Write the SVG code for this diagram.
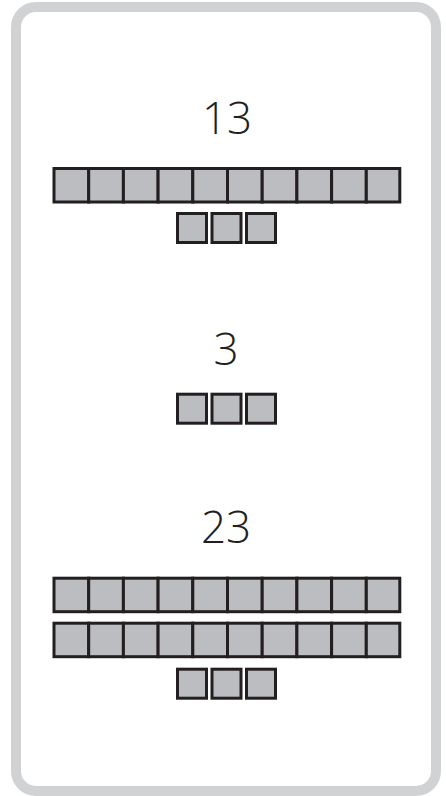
<svg xmlns="http://www.w3.org/2000/svg" width="446" height="796" viewBox="0 0 446 796">
<style>
.frame{fill:#fff;stroke:#d1d2d4;stroke-width:10}
.c{fill:#bcbdc0;stroke:#231f20;stroke-width:3}
.n{font-family:"Open Sans","DejaVu Sans",sans-serif;font-size:44px;fill:#231f20;text-anchor:middle;font-weight:300}
</style>
<defs>
<g id="bar">
<rect class="c" x="54" y="0" width="34.7" height="33.5"/>
<rect class="c" x="88.7" y="0" width="34.7" height="33.5"/>
<rect class="c" x="123.4" y="0" width="34.7" height="33.5"/>
<rect class="c" x="158.1" y="0" width="34.7" height="33.5"/>
<rect class="c" x="192.8" y="0" width="34.7" height="33.5"/>
<rect class="c" x="227.5" y="0" width="34.7" height="33.5"/>
<rect class="c" x="262.2" y="0" width="34.7" height="33.5"/>
<rect class="c" x="296.9" y="0" width="34.7" height="33.5"/>
<rect class="c" x="331.6" y="0" width="34.7" height="33.5"/>
<rect class="c" x="366.3" y="0" width="33.5" height="33.5"/>
</g>
<g id="ones">
<rect class="c" x="177.5" y="0" width="29" height="29"/>
<rect class="c" x="212" y="0" width="29" height="29"/>
<rect class="c" x="246.5" y="0" width="29" height="29"/>
</g>
</defs>
<rect class="frame" x="16" y="7" width="420" height="784" rx="20"/>
<g id="n13">
<text class="n" x="227" y="134">13</text>
<use href="#bar" y="168.5"/>
<use href="#ones" y="213.5"/>
</g>
<g id="n3">
<text class="n" x="226" y="365">3</text>
<use href="#ones" y="394.2"/>
</g>
<g id="n23">
<text class="n" x="226" y="543">23</text>
<use href="#bar" y="578.2"/>
<use href="#bar" y="623.2"/>
<use href="#ones" y="669.2"/>
</g>
</svg>
